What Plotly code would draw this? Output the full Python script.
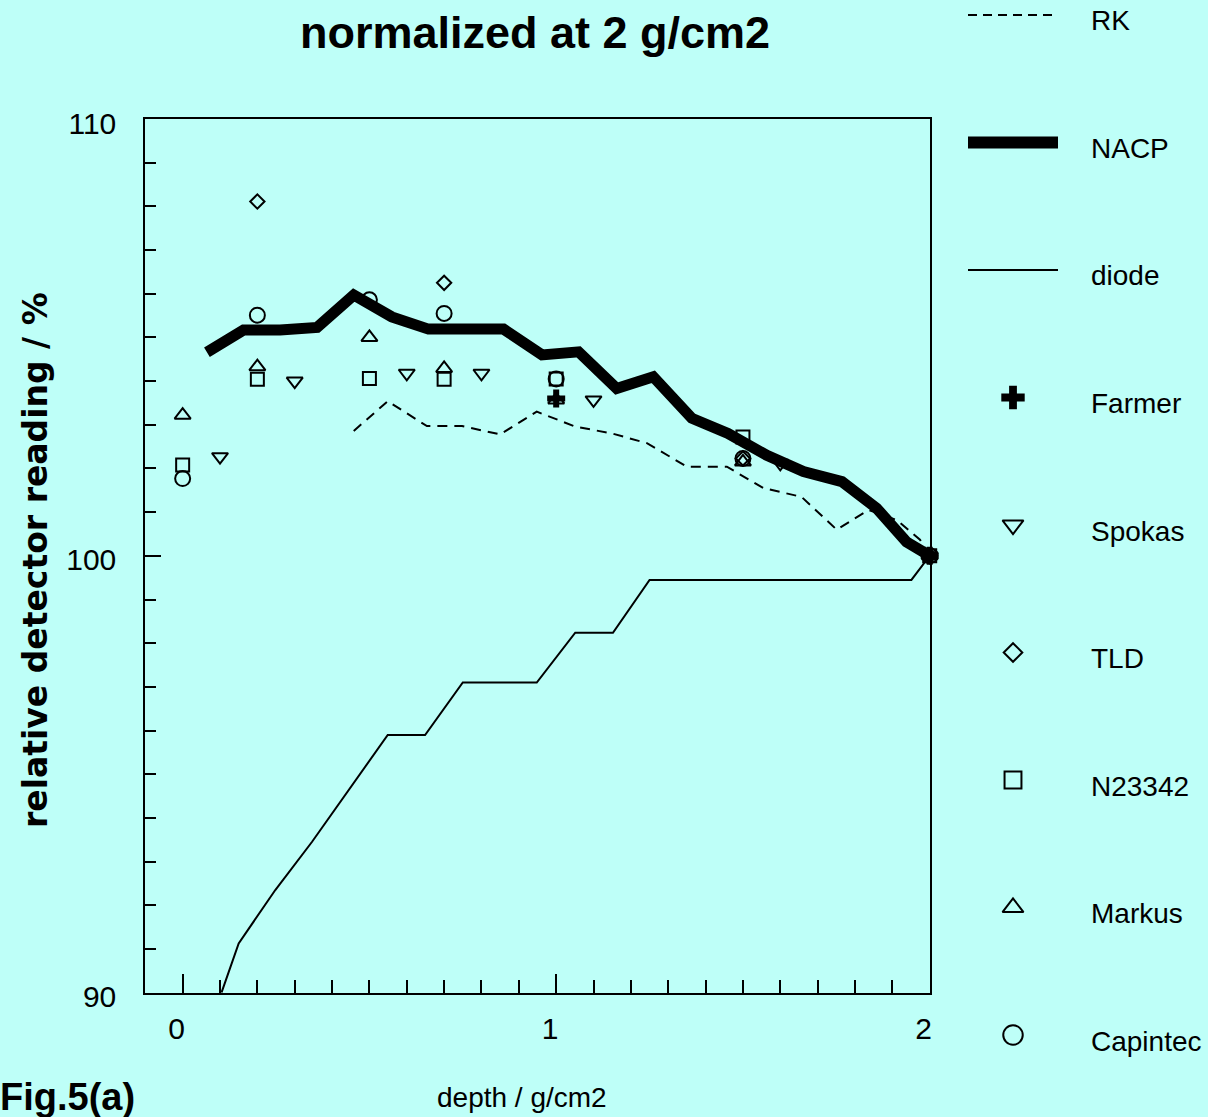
import plotly.graph_objects as go

W, H = 1208, 1117
BG = "rgb(190,255,248)"
SANS = "Liberation Sans, Arial"

# ---------------- data ----------------
depth_nacp = [0.065, 0.163, 0.261, 0.36, 0.458, 0.56, 0.658, 0.76, 0.859, 0.962, 1.06,
              1.162, 1.26, 1.363, 1.46, 1.564, 1.662, 1.765, 1.858, 1.938, 2.0]
nacp = [104.66, 105.17, 105.17, 105.23, 105.97, 105.47, 105.19, 105.19, 105.19, 104.6, 104.67,
        103.83, 104.1, 103.15, 102.8, 102.3, 101.93, 101.7, 101.09, 100.32, 100.0]

depth_rk = [0.458, 0.549, 0.654, 0.748, 0.85, 0.948, 1.051, 1.15, 1.243, 1.35, 1.457,
            1.555, 1.657, 1.751, 1.836, 1.912, 1.974, 2.0]
rk = [102.86, 103.54, 102.97, 102.97, 102.78, 103.3, 102.96, 102.8, 102.58, 102.04, 102.04,
      101.55, 101.35, 100.6, 101.05, 100.82, 100.37, 100.0]

depth_diode = [0.104, 0.15, 0.248, 0.346, 0.549, 0.649, 0.75, 0.948, 1.051, 1.152, 1.25, 1.951, 2.0]
diode = [90.0, 91.13, 92.35, 93.45, 95.9, 95.9, 97.1, 97.1, 98.24, 98.24, 99.45, 99.45, 100.0]

farmer_x = [1.0, 2.0]
farmer = [103.6, 100.0]
spokas_x = [0.1, 0.3, 0.6, 0.8, 1.1, 1.6, 2.0]
spokas = [102.27, 104.0, 104.18, 104.18, 103.57, 102.12, 100.0]
tld_x = [0.2, 0.7, 1.5, 2.0]
tld = [108.11, 106.25, 102.23, 100.0]
n23342_x = [0.0, 0.2, 0.5, 0.7, 1.0, 1.5, 2.0]
n23342 = [102.08, 104.04, 104.06, 104.04, 104.05, 102.72, 100.0]
markus_x = [0.0, 0.2, 0.5, 0.7, 1.0, 1.5, 2.0]
markus = [103.22, 104.33, 105.0, 104.29, 103.57, 102.15, 100.0]
capintec_x = [0.0, 0.2, 0.5, 0.7, 1.0, 1.5, 2.0]
capintec = [101.77, 105.51, 105.86, 105.55, 104.05, 102.23, 100.0]

x_ticks = [0, 1, 2]
y_ticks = [90, 100, 110]
legend_labels = ["RK", "NACP", "diode", "Farmer", "Spokas", "TLD", "N23342", "Markus", "Capintec"]

# ---------------- styles ----------------
line_styles = {
    "RK": dict(color="black", width=2, dash="10px,7px"),
    "NACP": dict(color="black", width=11),
    "diode": dict(color="black", width=2),
}
marker_styles = {
    "Farmer": dict(symbol="cross", size=15, color="black", line=dict(width=0)),
    "Spokas": dict(symbol="triangle-down-open", size=14, color="black", line=dict(width=2, color="black")),
    "TLD": dict(symbol="diamond-open", size=11, color="black", line=dict(width=2, color="black")),
    "N23342": dict(symbol="square-open", size=13, color="black", line=dict(width=2, color="black")),
    "Markus": dict(symbol="triangle-up-open", size=14, color="black", line=dict(width=2, color="black")),
    "Capintec": dict(symbol="circle-open", size=15, color="black", line=dict(width=2, color="black")),
}

fig = go.Figure()

line_data = {"RK": (depth_rk, rk), "NACP": (depth_nacp, nacp), "diode": (depth_diode, diode)}
for name in ["diode", "RK", "NACP"]:
    xs, ys = line_data[name]
    fig.add_trace(go.Scatter(x=xs, y=ys, mode="lines", line=line_styles[name], name=name,
                             showlegend=False, xaxis="x", yaxis="y"))

marker_data = {"Farmer": (farmer_x, farmer), "Spokas": (spokas_x, spokas), "TLD": (tld_x, tld),
               "N23342": (n23342_x, n23342), "Markus": (markus_x, markus),
               "Capintec": (capintec_x, capintec)}
for name, (xs, ys) in marker_data.items():
    fig.add_trace(go.Scatter(x=xs, y=ys, mode="markers", marker=marker_styles[name], name=name,
                             showlegend=False, cliponaxis=False, xaxis="x", yaxis="y"))

# ---------------- manual legend (pixel space on the right) ----------------
row0, row_step = 15, 127.5
line_x0, line_x1, sym_x, text_x = 968, 1058, 1013, 1089
legend_line_widths = {"RK": 2, "NACP": 12, "diode": 2}
legend_marker_scale = 1.3
annotations = []
for i, name in enumerate(legend_labels):
    ry = row0 + row_step * i
    if name in line_styles:
        st = dict(line_styles[name])
        st["width"] = legend_line_widths[name]
        if name == "RK":
            st["dash"] = "9px,6px"
        fig.add_trace(go.Scatter(x=[line_x0, line_x1], y=[ry, ry], mode="lines", line=st,
                                 showlegend=False, xaxis="x2", yaxis="y2", hoverinfo="skip"))
    else:
        ms = dict(marker_styles[name])
        ms["size"] = ms["size"] * legend_marker_scale
        fig.add_trace(go.Scatter(x=[sym_x], y=[ry], mode="markers", marker=ms,
                                 showlegend=False, xaxis="x2", yaxis="y2", hoverinfo="skip"))
    annotations.append(dict(text=name, x=text_x / W, y=1 - (ry + 6) / H, xref="paper", yref="paper",
                            xanchor="left", yanchor="middle", showarrow=False,
                            font=dict(family=SANS, size=28, color="black")))

# titles
annotations.append(dict(text="normalized at 2 g/cm2", x=535 / W, y=1 - 33 / H, xref="paper", yref="paper",
                        xanchor="center", yanchor="middle", showarrow=False,
                        font=dict(family=SANS, size=45, color="black", weight="bold")))
annotations.append(dict(text="relative detector reading / %", x=35 / W, y=1 - 560 / H, xref="paper",
                        yref="paper", xanchor="center", yanchor="middle", showarrow=False, textangle=-90,
                        font=dict(family="DejaVu Sans", size=33, color="black", weight="bold")))
annotations.append(dict(text="depth / g/cm2", x=522 / W, y=1 - 1097 / H, xref="paper", yref="paper",
                        xanchor="center", yanchor="middle", showarrow=False,
                        font=dict(family=SANS, size=28, color="black")))
annotations.append(dict(text="Fig.5(a)", x=-2 / W, y=1 - 1097 / H, xref="paper", yref="paper",
                        xanchor="left", yanchor="middle", showarrow=False,
                        font=dict(family=SANS, size=38, color="black", weight="bold")))

axis_common = dict(showline=True, linecolor="black", linewidth=2, mirror=True, showgrid=False,
                   zeroline=False, ticks="inside", tickcolor="black", tickwidth=2,
                   tickfont=dict(family=SANS, size=30, color="black"), automargin=False)

fig.update_layout(
    width=W, height=H, autosize=False,
    margin=dict(l=0, r=0, t=0, b=0),
    paper_bgcolor=BG, plot_bgcolor=BG,
    showlegend=False,
    xaxis=dict(domain=[145.3 / W, 929.7 / W], range=[-0.1, 2.0], tickvals=x_ticks,
               ticktext=[str(v) for v in x_ticks], ticklen=19,
               minor=dict(dtick=0.1, tick0=0, ticks="inside", ticklen=13, tickwidth=2, tickcolor="black"),
               ticklabelstandoff=8, ticklabelshift=-6, anchor="y", **axis_common),
    yaxis=dict(domain=[1 - 992.7 / H, 1 - 119 / H], range=[90, 110], tickvals=y_ticks,
               ticktext=[str(v) for v in y_ticks], ticklen=16,
               minor=dict(dtick=1, tick0=90, ticks="inside", ticklen=11, tickwidth=2, tickcolor="black"),
               ticklabelstandoff=21, ticklabelshift=4, anchor="x", **axis_common),
    xaxis2=dict(domain=[950 / W, 1.0], range=[950, W], visible=False, anchor="y2", fixedrange=True),
    yaxis2=dict(domain=[0, 1], range=[H, 0], visible=False, anchor="x2", fixedrange=True),
    annotations=annotations,
)

fig.write_html("out.html")
